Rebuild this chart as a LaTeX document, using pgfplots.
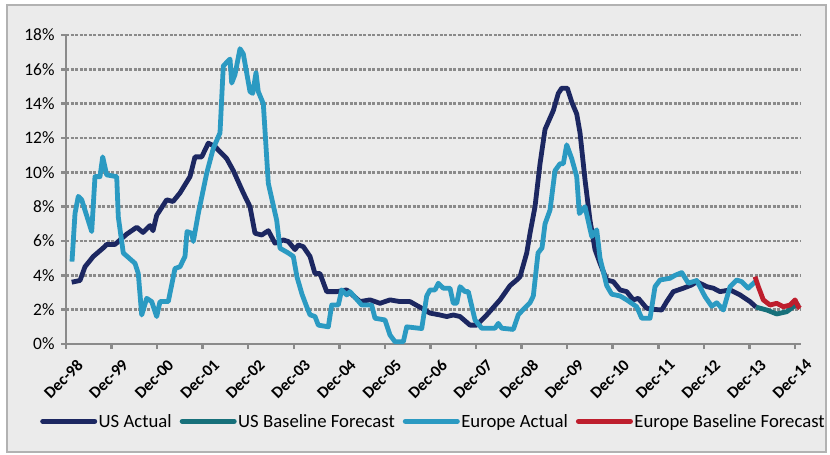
\documentclass[border=0pt]{standalone}
\usepackage{pgfplots}
\usepackage{pgfplotstable}
\pgfplotsset{compat=1.18}
\usepackage{fontspec}
\setmainfont{Carlito}
\definecolor{usact}{HTML}{1C2761}
\definecolor{usfc}{HTML}{17707A}
\definecolor{euact}{HTML}{2B9AC2}
\definecolor{eufc}{HTML}{BE1E2D}
\definecolor{bgc}{HTML}{EBEBEB}
\definecolor{gridc}{HTML}{8A8A8A}

% px = horizontal position on the original chart (Dec-98 at 66, one year = 45.56), v = rate in %
\pgfplotstableread{
px v
71.7 3.6
80 3.7
85 4.5
93.3 5.1
103.3 5.6
106.7 5.8
115 5.8
126.7 6.4
136.7 6.8
143 6.5
150 6.9
153 6.6
156.7 7.5
166.7 8.4
173 8.3
180 8.8
190 9.75
195 10.9
201.7 10.9
208.3 11.7
215 11.5
226.7 10.8
233.3 10.1
243.3 8.8
250 8.0
255 6.45
261.7 6.35
268.3 6.6
275 5.87
283.3 6.06
288.3 5.97
295 5.5
298.3 5.77
303.3 5.67
310 5.1
315 4.1
320 4.1
326.7 3.05
336.7 3.05
346.7 3.15
360 2.47
370 2.57
380 2.37
390 2.57
400 2.47
410 2.47
420 2.14
430 1.8
440 1.69
446.7 1.6
453.3 1.69
460 1.6
470 1.1
476.7 1.1
486.7 1.69
500 2.57
510 3.4
516.7 3.73
520 3.92
526.7 5.3
530 6.45
535 8.0
540 10.5
545 12.5
553.3 13.6
558.3 14.6
561.7 14.9
567.3 14.9
571.7 14.1
576.7 13.4
580 12.3
585 9.56
590 7.2
595 5.5
600 4.7
606.7 3.73
613.3 3.63
620 3.15
626.7 3.05
633.3 2.57
638.3 2.66
646.7 2.08
653.3 2.02
661.7 1.98
666.7 2.47
673.3 3.05
683.3 3.25
691.7 3.44
696.7 3.63
706.7 3.34
713.3 3.25
720 3.05
730 3.15
740 2.86
750 2.47
756 2.15
}\usact

\pgfplotstableread{
px v
756 2.15
766.7 1.98
776.7 1.75
786.7 1.88
793.3 2.17
799 2.4
}\usfc

\pgfplotstableread{
px v
72 4.8
75 7.6
78.3 8.6
81.7 8.4
91.7 6.55
95 9.75
100 9.75
102.7 10.9
106.7 9.85
116.7 9.75
118.3 7.4
123.3 5.3
135 4.7
138.3 4.1
141.7 1.69
146.7 2.66
151.7 2.47
156.7 1.6
160 2.47
168.3 2.47
175 4.4
180 4.5
185 5.1
187 6.55
191.7 6.45
193.3 5.97
198.3 7.6
206.7 9.95
213.3 11.4
220 12.3
223.3 16.2
230 16.6
231.7 15.2
235 15.7
240 17.2
243.3 16.9
250 14.7
252.7 14.6
256 15.8
258.3 14.7
263.3 14.0
268.3 9.36
276.7 7.2
280 5.58
288.3 5.3
293.3 5.1
297 3.9
302 2.9
306.7 2.17
310 1.7
315 1.6
318.3 1.1
328.3 1.0
331.7 2.27
338.3 2.27
341.7 3.15
346.7 2.86
350 3.05
361.7 2.27
371.7 2.27
375 1.5
385 1.4
390 0.52
395 0.13
403.3 0.13
406.7 1.0
421.7 0.9
426.7 2.8
430 3.15
435 3.15
438.3 3.54
443.3 3.25
450 3.25
453.3 2.37
456.7 2.37
460 3.34
465 3.05
468.3 3.05
475 1.4
481.7 0.92
495 0.92
498.3 1.2
501.7 0.92
513.3 0.85
518.3 1.7
523 2.0
530 2.4
533.3 2.8
535 3.7
538 5.3
542 5.6
545 7.0
550 7.8
555 10.1
560 10.5
563.3 10.5
566.7 11.6
571.7 10.8
576.7 9.75
579.3 7.6
585 8.0
591.7 6.26
596.7 6.65
600 5.0
606.7 3.4
611.7 2.9
620 2.8
626.7 2.57
636.7 2.17
641.7 1.5
650 1.5
655 3.34
660 3.73
670 3.83
675 4.0
681.7 4.16
688.3 3.54
696.7 3.7
705 2.76
711.7 2.2
716.7 2.4
723.3 1.98
730 3.34
736.7 3.73
741.7 3.63
748.3 3.25
755 3.63
}\euact

\pgfplotstableread{
px v
755 3.92
758.3 3.34
763.3 2.57
770 2.27
776.7 2.37
783.3 2.17
790 2.27
795 2.57
798.3 2.17
800 2.08
}\eufc

\begin{document}
\begin{tikzpicture}
\fill[white] (0bp,0bp) rectangle (830bp,455bp);
\filldraw[fill=bgc, draw=gray!60, line width=1.2bp] (7bp,3bp) rectangle (826bp,450bp);
\begin{axis}[
  at={(66bp,111bp)}, anchor=south west,
  scale only axis, width=734bp, height=309bp,
  xmin=0, xmax=16.11, ymin=0, ymax=18,
  axis lines*=left,
  axis line style={gridc, line width=2.8bp},
  tick align=outside,
  major tick length=5bp,
  tick style={gridc, line width=2.5bp},
  ytick={0,2,...,18},
  yticklabel={\pgfmathprintnumber{\tick}\%},
  /pgf/number format/assume math mode=true,
  yticklabel style={font=\fontsize{17.5}{20}\selectfont, xshift=-3bp},
  xtick={0,...,16},
  xticklabels={Dec-98,Dec-99,Dec-00,Dec-01,Dec-02,Dec-03,Dec-04,Dec-05,Dec-06,Dec-07,Dec-08,Dec-09,Dec-10,Dec-11,Dec-12,Dec-13,Dec-14},
  xticklabel style={rotate=45, anchor=north east, font=\bfseries\fontsize{16.5}{18}\selectfont, inner sep=0.5bp, yshift=-13bp, xshift=1bp},
  ymajorgrids,
  major grid style={gridc, line width=2.6bp, dash pattern=on 3bp off 1.5bp},
  clip=false,
  legend columns=4,
  legend style={at={(-0.0354,-0.25)}, anchor=west, draw=none, fill=none,
    font=\fontsize{18.8}{20}\selectfont, inner sep=0pt,
    nodes={inner sep=1.5bp},
    /tikz/every even column/.append style={column sep=6.5bp}},
  legend cell align=left,
  legend image code/.code={\draw[#1, line width=5bp, line cap=round] (2bp,0bp) -- (54bp,0bp);},
  every axis plot/.append style={line width=4.8bp, line join=round, no marks},
]
\addplot[usact] table[x expr=(\thisrow{px}-66)/45.56, y=v] {\usact};
\addlegendentry{US Actual}
\addplot[usfc] table[x expr=(\thisrow{px}-66)/45.56, y=v] {\usfc};
\addlegendentry{US Baseline Forecast}
\addplot[euact] table[x expr=(\thisrow{px}-66)/45.56, y=v] {\euact};
\addlegendentry{Europe Actual}
\addplot[eufc] table[x expr=(\thisrow{px}-66)/45.56, y=v] {\eufc};
\addlegendentry{Europe Baseline Forecast}
\end{axis}
\end{tikzpicture}
\end{document}
